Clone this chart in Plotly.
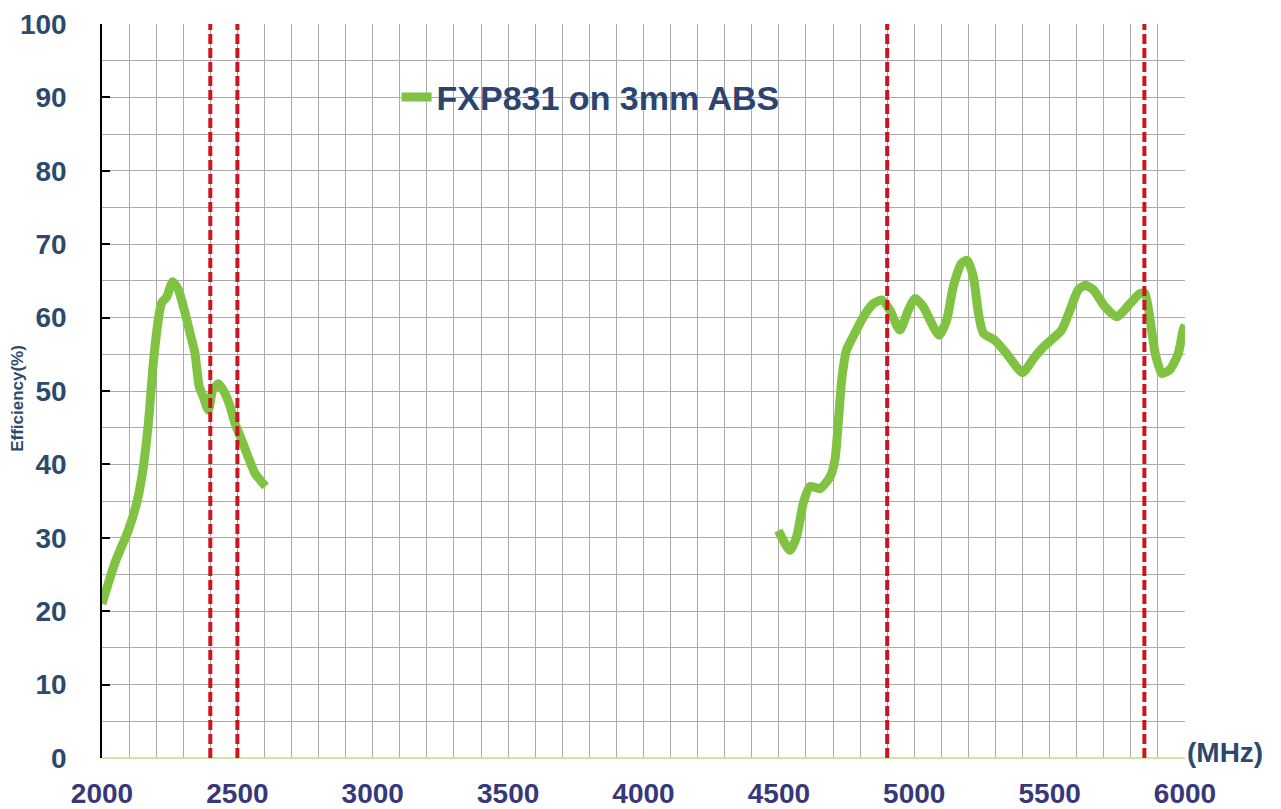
import plotly.graph_objects as go

# ---- data ----
freq_low = [2000, 2048, 2097, 2128, 2150, 2171, 2190, 2208, 2220, 2239, 2261, 2282,
            2307, 2325, 2343, 2359, 2374, 2393, 2409, 2430, 2454, 2473, 2491, 2516,
            2540, 2565, 2604]
eff_low = [21.0, 26.6, 31.0, 34.7, 39.0, 45.5, 54.0, 59.7, 62.0, 62.8, 64.9, 63.8,
           60.6, 57.9, 55.2, 50.6, 49.2, 47.4, 50.1, 51.0, 49.7, 47.9, 45.6, 43.3,
           41.0, 38.8, 37.0]

freq_high = [4498, 4541, 4566, 4590, 4615, 4652, 4689, 4707, 4720, 4732, 4750, 4781,
             4812, 4849, 4880, 4910, 4947, 4978, 5003, 5033, 5070, 5092, 5120, 5144,
             5175, 5196, 5218, 5237, 5255, 5298, 5341, 5400, 5440, 5477, 5544, 5575,
             5606, 5631, 5661, 5704, 5748, 5797, 5834, 5852, 5871, 5890, 5914, 5944,
             5975, 5993, 6000]
eff_high = [31.0, 28.3, 30.2, 34.7, 37.0, 36.7, 38.3, 40.6, 46.0, 51.5, 55.6, 57.9,
            60.1, 61.9, 62.4, 61.0, 58.3, 61.0, 62.6, 61.5, 58.8, 57.6, 59.7, 64.2,
            67.4, 67.8, 65.6, 60.6, 57.9, 56.9, 55.1, 52.5, 54.4, 56.0, 58.3, 61.0,
            63.8, 64.4, 63.8, 61.5, 60.1, 61.9, 63.3, 63.3, 59.7, 55.1, 52.4, 52.9,
            55.1, 58.3, 59.0]

band_edges = [2400, 2500, 4900, 5850]
series_name = "FXP831 on 3mm ABS"
x_ticks = [2000, 2500, 3000, 3500, 4000, 4500, 5000, 5500, 6000]
y_ticks = [0, 10, 20, 30, 40, 50, 60, 70, 80, 90, 100]

FONT = "Liberation Sans, Arial, sans-serif"
GREEN = "#80C342"
RED = "#CC1520"
YCOL = "#2C4A6C"
XCOL = "#36387A"
GRID = "#ABABAB"

x_all = freq_low + [None] + freq_high
y_all = eff_low + [None] + eff_high

fig = go.Figure()
fig.add_trace(go.Scatter(
    x=x_all, y=y_all, mode="lines", name=series_name,
    line=dict(color=GREEN, width=9, shape="spline", smoothing=0.6),
    connectgaps=False,
))

for f in band_edges:
    fig.add_shape(type="line", xref="x", yref="y", x0=f, x1=f, y0=0, y1=100,
                  line=dict(color=RED, width=4, dash="10px,4px"), layer="above")

# white legend backdrop hiding the gridlines
fig.add_shape(type="rect", xref="paper", yref="paper",
              x0=0.247, x1=0.639, y0=0.835, y1=0.96,
              fillcolor="white", line=dict(width=0), layer="between")

# page body has an 8px default margin, so the figure is sized to fit the window
fig.update_layout(
    width=1273, height=801,
    margin=dict(l=94, r=96, t=16, b=51),
    paper_bgcolor="white", plot_bgcolor="white",
    showlegend=True,
    legend=dict(x=0.272, y=0.90, xanchor="left", yanchor="middle",
                bgcolor="rgba(255,255,255,0)", borderwidth=0,
                font=dict(family=FONT, size=34, color="#2B4470", weight="bold")),
    font=dict(family=FONT),
)

fig.update_xaxes(
    range=[2000, 6000], tickvals=x_ticks, ticktext=[str(v) for v in x_ticks],
    showgrid=True, gridcolor=GRID, gridwidth=1,
    minor=dict(dtick=100, showgrid=True, gridcolor=GRID, gridwidth=1),
    showline=False, zeroline=False, ticks="",
    ticklabelstandoff=16, automargin=False,
    tickfont=dict(family=FONT, size=28, color=XCOL, weight="bold"),
)
fig.update_yaxes(
    range=[0, 100], tickvals=y_ticks, ticktext=[str(v) for v in y_ticks],
    showgrid=True, gridcolor=GRID, gridwidth=1,
    minor=dict(dtick=5, showgrid=True, gridcolor=GRID, gridwidth=1),
    showline=True, linecolor="black", linewidth=1.5,
    ticks="inside", ticklen=8, tickcolor="black", tickwidth=1.5,
    zeroline=True, zerolinecolor="#D3E4A8", zerolinewidth=2,
    ticklabelstandoff=28, automargin=False,
    tickfont=dict(family=FONT, size=28, color=YCOL, weight="bold"),
)

fig.add_annotation(text="Efficiency(%)", xref="paper", yref="paper",
                   x=-0.078, y=0.49, textangle=-90, showarrow=False,
                   xanchor="center", yanchor="middle",
                   font=dict(family=FONT, size=17, color=YCOL, weight="bold"))
fig.add_annotation(text="(MHz)", xref="paper", yref="paper",
                   x=1.0, y=0.0, xanchor="left", yanchor="middle", xshift=0, yshift=6,
                   showarrow=False,
                   font=dict(family=FONT, size=28, color=YCOL, weight="bold"))

fig.write_html("out.html")
